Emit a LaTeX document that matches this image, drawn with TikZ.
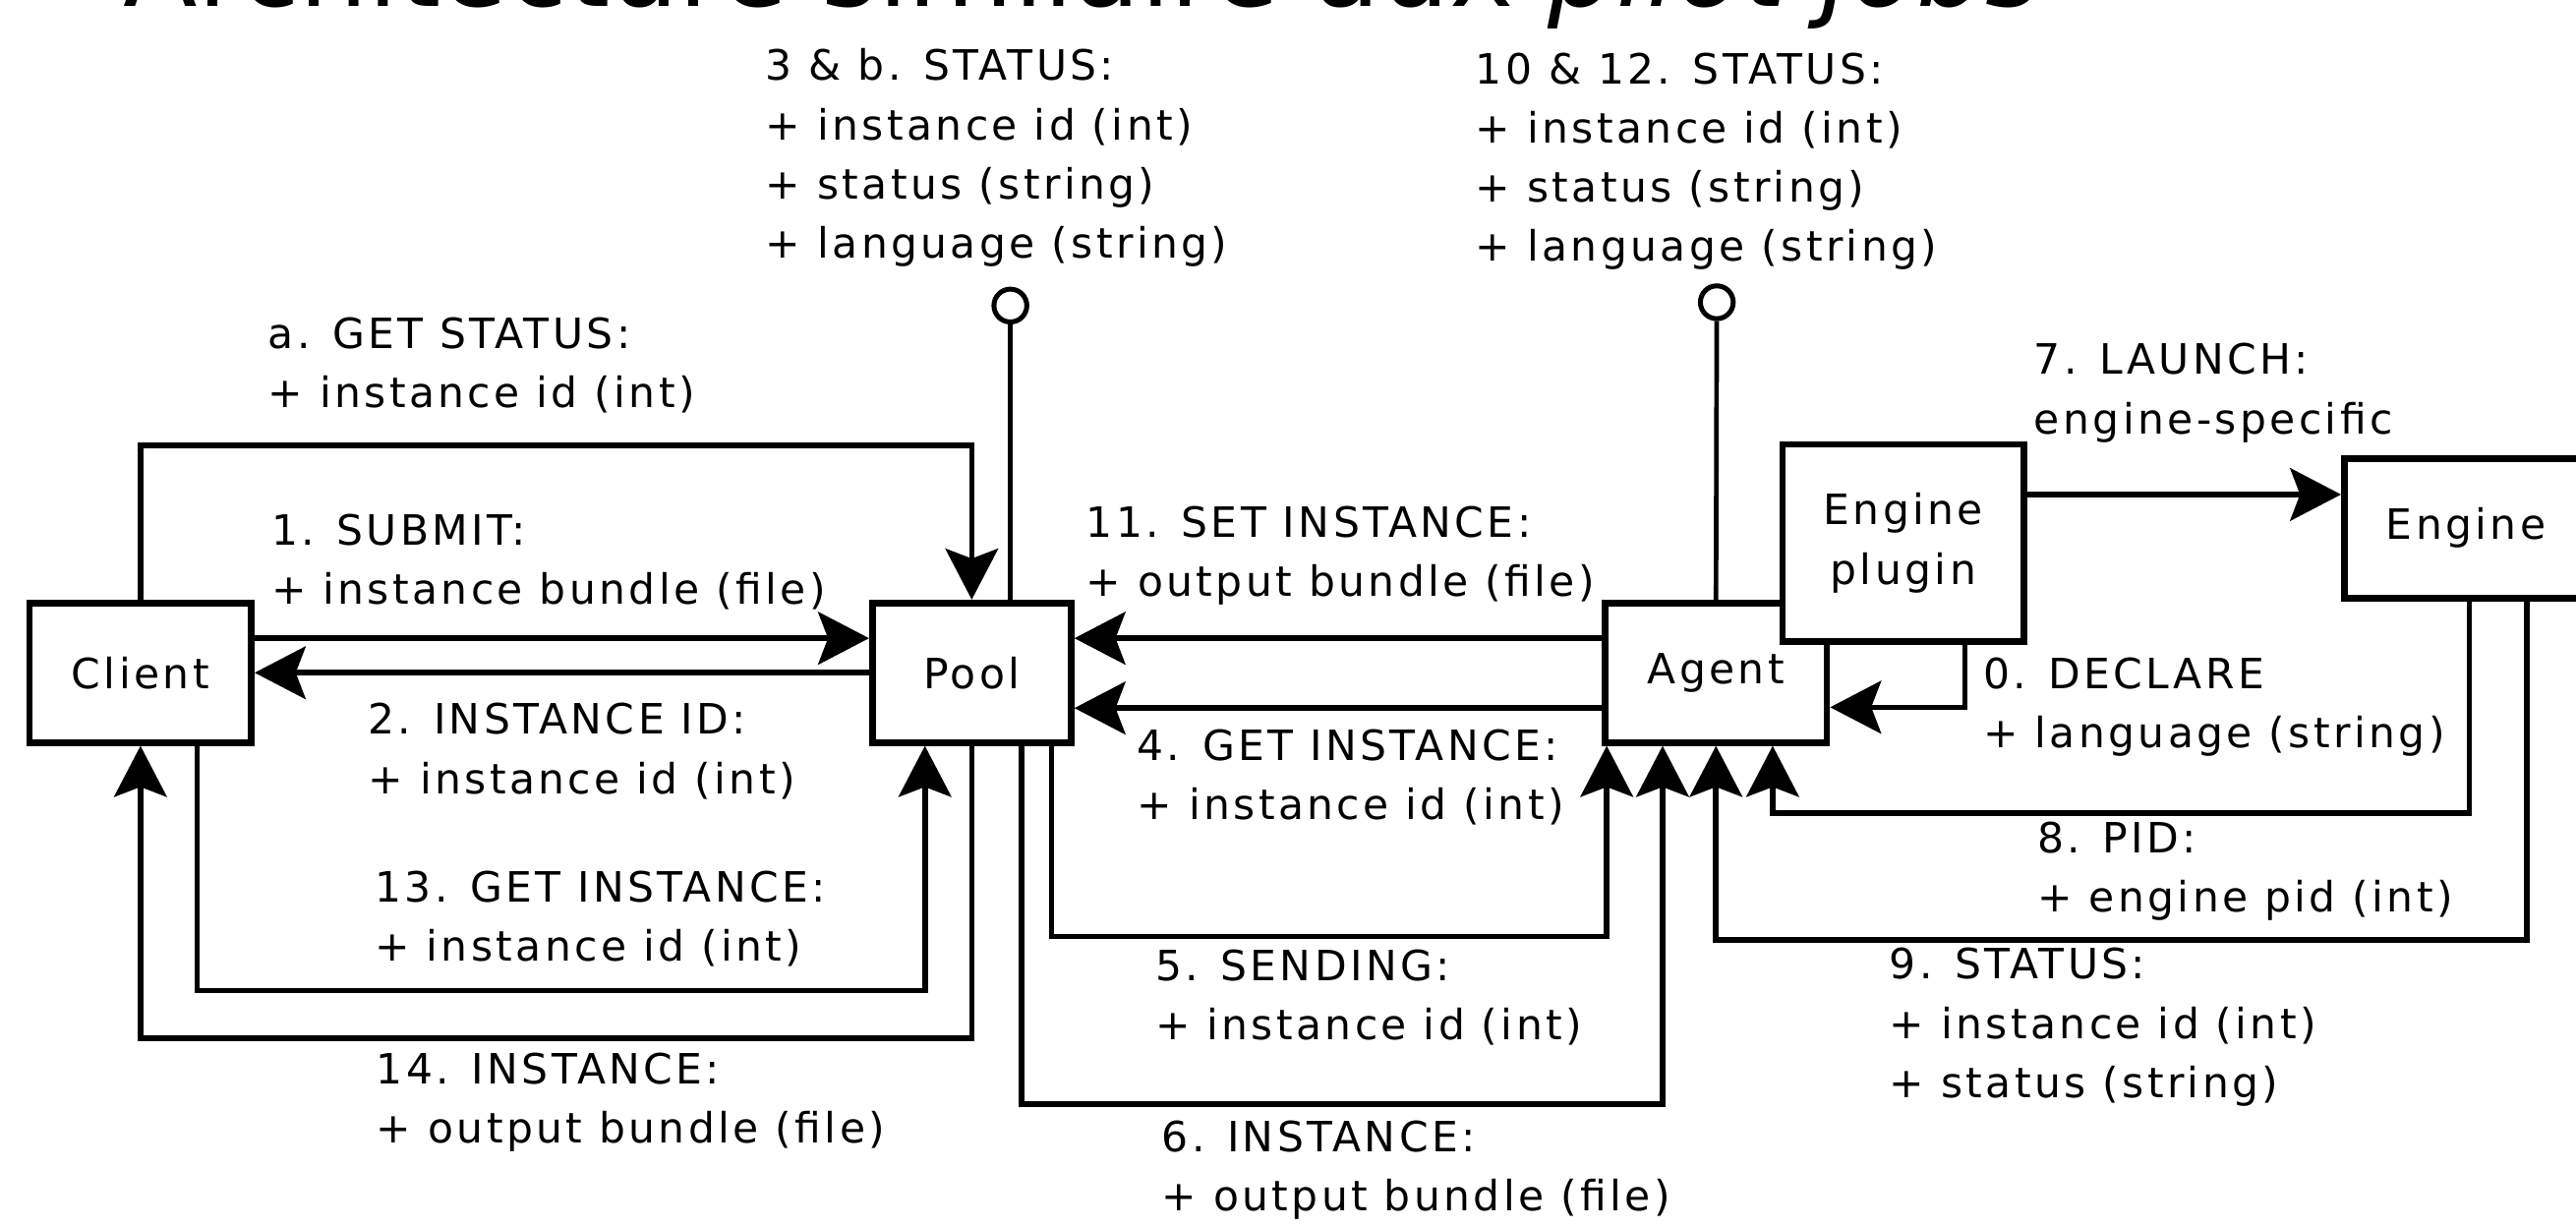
\documentclass[tikz,border=0pt]{standalone}
\usepackage{fontspec}
\setmainfont{DejaVu Sans}[LetterSpace=8]
\newfontfamily\titlefont{DejaVu Sans}
\usetikzlibrary{arrows.meta}

\begin{document}
\begin{tikzpicture}[x=1pt,y=-1pt,font=\fontsize{25.4pt}{36pt}\selectfont,
    box/.style={draw,line width=4pt,fill=white,inner sep=0pt,align=center},
    flow/.style={line width=3.4pt,-{Stealth[length=31pt,width=32pt,inset=6pt]}},
    lbl/.style={anchor=base west,align=left,inner sep=0pt},
    port/.style={circle,draw,line width=3pt,fill=white,minimum size=20pt,inner sep=0pt}]
  \useasboundingbox (0,0) rectangle (1568,747);
  \node[lbl,font=\titlefont\fontsize{66pt}{70pt}\selectfont] (title) at (75,4) {Architecture similaire aux \textit{pilot jobs}};

  \node[box,minimum width=135pt,minimum height=85pt] (client) at (85.5,409.5) {Client};
  \node[box,minimum width=121pt,minimum height=85pt] (pool) at (591.5,409.5) {Pool};
  \node[box,minimum width=135pt,minimum height=85pt] (agent) at (1044.5,409.5) {Agent};
  \node[box,minimum width=147pt,minimum height=120pt] (plugin) at (1158.5,330.5) {Engine\\plugin};
  \node[box,minimum width=148pt,minimum height=85pt] (engine) at (1501,321.5) {Engine};

  \node[port] (poolport) at (615,186) {};
  \node[port] (agentport) at (1045,184) {};
  \draw[line width=2.8pt] ([xshift=23.5pt]pool.north) -- (poolport);
  \draw[line width=2.8pt] (agent.north) -- (agentport);

  \draw[flow] (client.north) -- ++(0,-94) -| (pool.north);
  \draw[flow] ([yshift=21pt]client.east) -- ([yshift=21pt]client.east -| pool.west);
  \draw[flow] (pool.west) -- (pool.west -| client.east);
  \draw[flow] ([xshift=34.5pt]client.south) -- ++(0,149) -| ([xshift=-28.5pt]pool.south);
  \draw[flow] (pool.south) -- ++(0,178) -| (client.south);
  \draw[flow] ([yshift=21pt]agent.west) -- ([yshift=21pt]agent.west -| pool.east);
  \draw[flow] ([yshift=-21.5pt]agent.west) -- ([yshift=-21.5pt]agent.west -| pool.east);
  \draw[flow] ([xshift=48.5pt]pool.south) -- ++(0,116) -| ([xshift=-66.5pt]agent.south);
  \draw[flow] ([xshift=30.5pt]pool.south) -- ++(0,218) -| ([xshift=-32.5pt]agent.south);
  \draw[flow] ([xshift=37.5pt]plugin.south) |- ([yshift=-21pt]agent.east);
  \draw[flow] ([yshift=29.5pt]plugin.east) -- ([yshift=29.5pt]plugin.east -| engine.west);
  \draw[flow] ([xshift=2pt]engine.south) -- ++(0,129) -| ([xshift=34.5pt]agent.south);
  \draw[flow] ([xshift=37pt]engine.south) -- ++(0,206) -| (agent.south);

  \node[lbl] (l3b) at (466,157) {3 \& b. STATUS:\\+ instance id (int)\\+ status (string)\\+ language (string)};
  \node[lbl] (l1012) at (898,159) {10 \& 12. STATUS:\\+ instance id (int)\\+ status (string)\\+ language (string)};
  \node[lbl] (la) at (163,248) {a. GET STATUS:\\+ instance id (int)};
  \node[lbl] (l7) at (1238,264) {7. LAUNCH:\\engine-specific};
  \node[lbl] (l1) at (165,368) {1. SUBMIT:\\+ instance bundle (file)};
  \node[lbl] (l11) at (661,363) {11. SET INSTANCE:\\+ output bundle (file)};
  \node[lbl] (l0) at (1207,455) {0. DECLARE\\+ language (string)};
  \node[lbl] (l2) at (224,483) {2. INSTANCE ID:\\+ instance id (int)};
  \node[lbl] (l4) at (692,499) {4. GET INSTANCE:\\+ instance id (int)};
  \node[lbl] (l8) at (1240,555) {8. PID:\\+ engine pid (int)};
  \node[lbl] (l13) at (228,585) {13. GET INSTANCE:\\+ instance id (int)};
  \node[lbl] (l5) at (703,633) {5. SENDING:\\+ instance id (int)};
  \node[lbl] (l9) at (1150,668) {9. STATUS:\\+ instance id (int)\\+ status (string)};
  \node[lbl] (l14) at (229,696) {14. INSTANCE:\\+ output bundle (file)};
  \node[lbl] (l6) at (707,737) {6. INSTANCE:\\+ output bundle (file)};
\end{tikzpicture}
\end{document}
